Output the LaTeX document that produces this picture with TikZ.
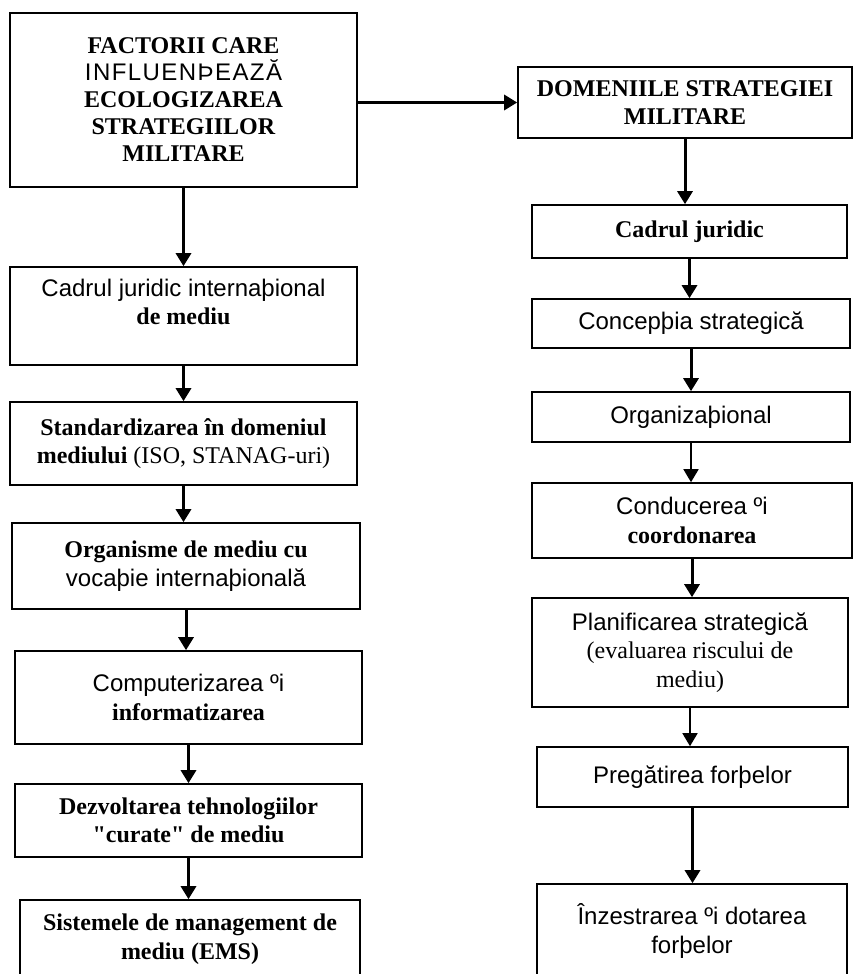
\documentclass[tikz,border=0pt]{standalone}
\usepackage{fontspec}
\setmainfont{Liberation Serif}
\setsansfont{Liberation Sans}
\usetikzlibrary{arrows.meta}
\begin{document}
\begin{tikzpicture}[x=1pt, y=-1pt,
		box/.style={draw=black, line width=1.6pt, solid, rectangle, align=center, inner sep=0pt, font=\fontsize{24}{28.5}\selectfont},
		arr/.style={draw=black, line width=3pt, -{Triangle[width=15pt,length=13pt]}},
		arrthin/.style={draw=black, line width=1.7pt, -{Triangle[width=15pt,length=13pt]}}]
		\useasboundingbox (0,0) rectangle (856,974);
		\clip (0,0) rectangle (856,974);
		\fill[white] (0,0) rectangle (856,974);
		\node[box, minimum width=347, minimum height=174, font=\fontsize{24}{27}\selectfont] (factori) at (183.5,100) {\textbf{FACTORII CARE}\\{\sffamily\addfontfeature{LetterSpace=6}INFLUENÞEAZĂ}\\\textbf{ECOLOGIZAREA}\\\textbf{STRATEGIILOR}\\\textbf{MILITARE}};
		\node[box, minimum width=334, minimum height=71] (domenii) at (685,102.5) {\textbf{DOMENIILE STRATEGIEI}\\\textbf{MILITARE}};
		\node[box, minimum width=347, minimum height=98] (cadruint) at (183.5,316) {\sffamily Cadrul juridic internaþional\\\textbf{de mediu}\\~};
		\node[box, minimum width=347, minimum height=83] (standard) at (183.5,443.5) {\textbf{Standardizarea în domeniul}\\\textbf{mediului} (ISO, STANAG-uri)};
		\node[box, minimum width=348, minimum height=86] (organisme) at (186,566) {\textbf{Organisme de mediu cu}\\{\sffamily vocaþie internaþională}};
		\node[box, minimum width=347, minimum height=93] (computer) at (188.5,697.5) {\sffamily Computerizarea ºi\\\textbf{informatizarea}};
		\node[box, minimum width=347, minimum height=73] (dezvoltare) at (188.5,820.5) {\textbf{Dezvoltarea tehnologiilor}\\\textbf{\textquotedbl curate\textquotedbl{} de mediu}};
		\node[box, minimum width=340, minimum height=78] (sisteme) at (190,939) {\textbf{Sistemele de management de}\\\textbf{mediu (EMS)}};
		\node[box, minimum width=315, minimum height=53] (cadru) at (689.5,231.5) {\textbf{Cadrul juridic}};
		\node[box, minimum width=318, minimum height=49] (conceptia) at (691,323.5) {\sffamily Concepþia strategică};
		\node[box, minimum width=318, minimum height=50] (organiz) at (691,417) {\sffamily Organizaþional};
		\node[box, minimum width=320, minimum height=75] (conducere) at (692,520.5) {{\sffamily Conducerea ºi}\\\textbf{coordonarea}};
		\node[box, minimum width=316, minimum height=109] (planificare) at (690,652.5) {{\sffamily Planificarea strategică}\\(evaluarea riscului de\\mediu)};
		\node[box, minimum width=311, minimum height=60] (pregatire) at (692.5,777) {\sffamily Pregătirea forþelor};
		\node[box, minimum width=310, minimum height=94] (inzestrare) at (692,931) {\sffamily Înzestrarea ºi dotarea\\\sffamily forþelor};
		\draw[arr] (factori.east |- domenii.west) -- (domenii.west);
		\draw[arr] (factori.south) -- (factori.south |- cadruint.north);
		\draw[arr] (cadruint.south) -- (cadruint.south |- standard.north);
		\draw[arr] (standard.south) -- (standard.south |- organisme.north);
		\draw[arr] (organisme.south) -- (organisme.south |- computer.north);
		\draw[arr] (computer.south) -- (computer.south |- dezvoltare.north);
		\draw[arr] (dezvoltare.south) -- (dezvoltare.south |- sisteme.north);
		\draw[arr] (domenii.south) -- (domenii.south |- cadru.north);
		\draw[arr] (cadru.south) -- (cadru.south |- conceptia.north);
		\draw[arr] (conceptia.south) -- (conceptia.south |- organiz.north);
		\draw[arrthin] (organiz.south) -- (organiz.south |- conducere.north);
		\draw[arr] (conducere.south) -- (conducere.south |- planificare.north);
		\draw[arrthin] (planificare.south) -- (planificare.south |- pregatire.north);
		\draw[arr] (pregatire.south) -- (pregatire.south |- inzestrare.north);
	\end{tikzpicture}
\end{document}
